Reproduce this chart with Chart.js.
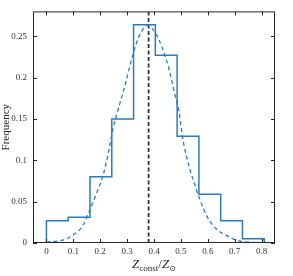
<!DOCTYPE html>
<html>
<head>
<meta charset="utf-8">
<script src="https://cdn.jsdelivr.net/npm/chart.js@4/dist/chart.umd.min.js"></script>
<style>
  html, body { margin: 0; padding: 0; background: #fff; }
  #wrap { width: 293px; height: 276px; }
</style>
</head>
<body>
<div id="wrap"><canvas id="chartHist"></canvas></div>
<script>
// histogram bins
const binEdges = [0, 0.081, 0.162, 0.243, 0.324, 0.405, 0.486, 0.567, 0.648, 0.729, 0.81];
const binFreq = [0.027, 0.031, 0.080, 0.150, 0.264, 0.227, 0.129, 0.059, 0.027, 0.005];

// fitted curve
const fitX = [0, 0.012, 0.061, 0.099, 0.136, 0.16, 0.185, 0.21, 0.231, 0.249, 0.268, 0.29, 0.321, 0.346, 0.376,
  0.407, 0.432, 0.457, 0.475, 0.494, 0.506, 0.525, 0.543, 0.568, 0.599, 0.63, 0.667, 0.704, 0.75, 0.8];
const fitY = [0.001, 0.0015, 0.0036, 0.0096, 0.0215, 0.039, 0.059, 0.081, 0.11, 0.14, 0.163, 0.188, 0.227, 0.251, 0.263,
  0.253, 0.235, 0.209, 0.183, 0.157, 0.128, 0.099, 0.079, 0.055, 0.031, 0.0175, 0.0096, 0.0036, 0.001, 0.0003];

const meanValue = 0.38;

const xTicks = [0, 0.1, 0.2, 0.3, 0.4, 0.5, 0.6, 0.7, 0.8];
const yTicks = [0, 0.05, 0.1, 0.15, 0.2, 0.25];

const blue = '#2a7bbd';
const serif = '"Liberation Serif", "DejaVu Serif", serif';

// stepped outline from the bins
const histPts = [{ x: binEdges[0], y: 0 }];
binFreq.forEach((f, i) => histPts.push({ x: binEdges[i], y: f }));
histPts.push({ x: binEdges[binEdges.length - 1], y: 0 });

const fitPts = fitX.map((x, i) => ({ x: x, y: fitY[i] }));

// box + inward ticks on all sides, and the x title with subscripts
const boxPlugin = {
  id: 'boxTicks',
  afterDraw(chart) {
    const c = chart.ctx, a = chart.chartArea;
    const xs = chart.scales.x, ys = chart.scales.y;
    c.save();
    c.strokeStyle = '#262626';
    c.lineWidth = 1;
    c.strokeRect(a.left + 0.5, a.top + 0.5, a.right - a.left - 1, a.bottom - a.top - 1);
    c.beginPath();
    xTicks.forEach(v => {
      const px = Math.round(xs.getPixelForValue(v)) + 0.5;
      c.moveTo(px, a.bottom); c.lineTo(px, a.bottom - 4);
      c.moveTo(px, a.top); c.lineTo(px, a.top + 4);
    });
    yTicks.forEach(v => {
      const py = Math.round(ys.getPixelForValue(v)) + 0.5;
      c.moveTo(a.left, py); c.lineTo(a.left + 4, py);
      c.moveTo(a.right, py); c.lineTo(a.right - 4, py);
    });
    c.stroke();

    // x title: Z_const / Z_sun
    const parts = [
      { t: 'Z', f: 'italic 13px ' + serif, dy: 0 },
      { t: 'const', f: '9px ' + serif, dy: 3 },
      { t: '/', f: '13px ' + serif, dy: 0 },
      { t: 'Z', f: 'italic 13px ' + serif, dy: 0 },
      { t: '\u2299', f: '8px "DejaVu Sans", sans-serif', dy: 3 }
    ];
    let w = 0;
    parts.forEach(p => { c.font = p.f; p.w = c.measureText(p.t).width; w += p.w; });
    let x = (a.left + a.right) / 2 - w / 2;
    const base = 268;
    c.fillStyle = '#262626';
    c.textBaseline = 'alphabetic';
    parts.forEach(p => { c.font = p.f; c.fillText(p.t, x, base + p.dy); x += p.w; });
    c.restore();
  }
};

new Chart(document.getElementById('chartHist'), {
  type: 'scatter',
  data: {
    datasets: [
      {
        label: 'Histogram',
        data: histPts,
        showLine: true,
        stepped: 'before',
        borderColor: blue,
        borderWidth: 1.5,
        pointRadius: 0
      },
      {
        label: 'Fit',
        data: fitPts,
        showLine: true,
        cubicInterpolationMode: 'monotone',
        borderColor: blue,
        borderWidth: 1.3,
        borderDash: [4, 3],
        pointRadius: 0
      },
      {
        label: 'Mean',
        data: [{ x: meanValue, y: 0 }, { x: meanValue, y: 0.28 }],
        showLine: true,
        borderColor: '#333333',
        borderWidth: 1.8,
        borderDash: [4, 2.5],
        pointRadius: 0
      }
    ]
  },
  options: {
    responsive: true,
    maintainAspectRatio: false,
    animation: false,
    layout: { padding: { left: 0, right: 18, top: 9, bottom: 0 } },
    plugins: {
      legend: { display: false },
      tooltip: { enabled: false }
    },
    scales: {
      x: {
        type: 'linear',
        min: -0.05,
        max: 0.85,
        afterFit: s => { s.height = 33; },
        afterBuildTicks: s => { s.ticks = xTicks.map(v => ({ value: v })); },
        grid: { display: false, drawTicks: false },
        border: { display: false },
        ticks: {
          padding: 3,
          color: '#333',
          font: { family: serif, size: 9 },
          callback: v => String(v)
        }
      },
      y: {
        min: 0,
        max: 0.28,
        afterFit: s => { s.width = 33; },
        afterBuildTicks: s => { s.ticks = yTicks.map(v => ({ value: v })); },
        grid: { display: false, drawTicks: false },
        border: { display: false },
        ticks: {
          padding: 6,
          color: '#333',
          font: { family: serif, size: 9 },
          callback: v => String(v)
        },
        title: {
          display: true,
          text: 'Frequency',
          color: '#262626',
          padding: { top: 0, bottom: 0 },
          font: { family: serif, size: 11 }
        }
      }
    }
  },
  plugins: [boxPlugin]
});
</script>
</body>
</html>
